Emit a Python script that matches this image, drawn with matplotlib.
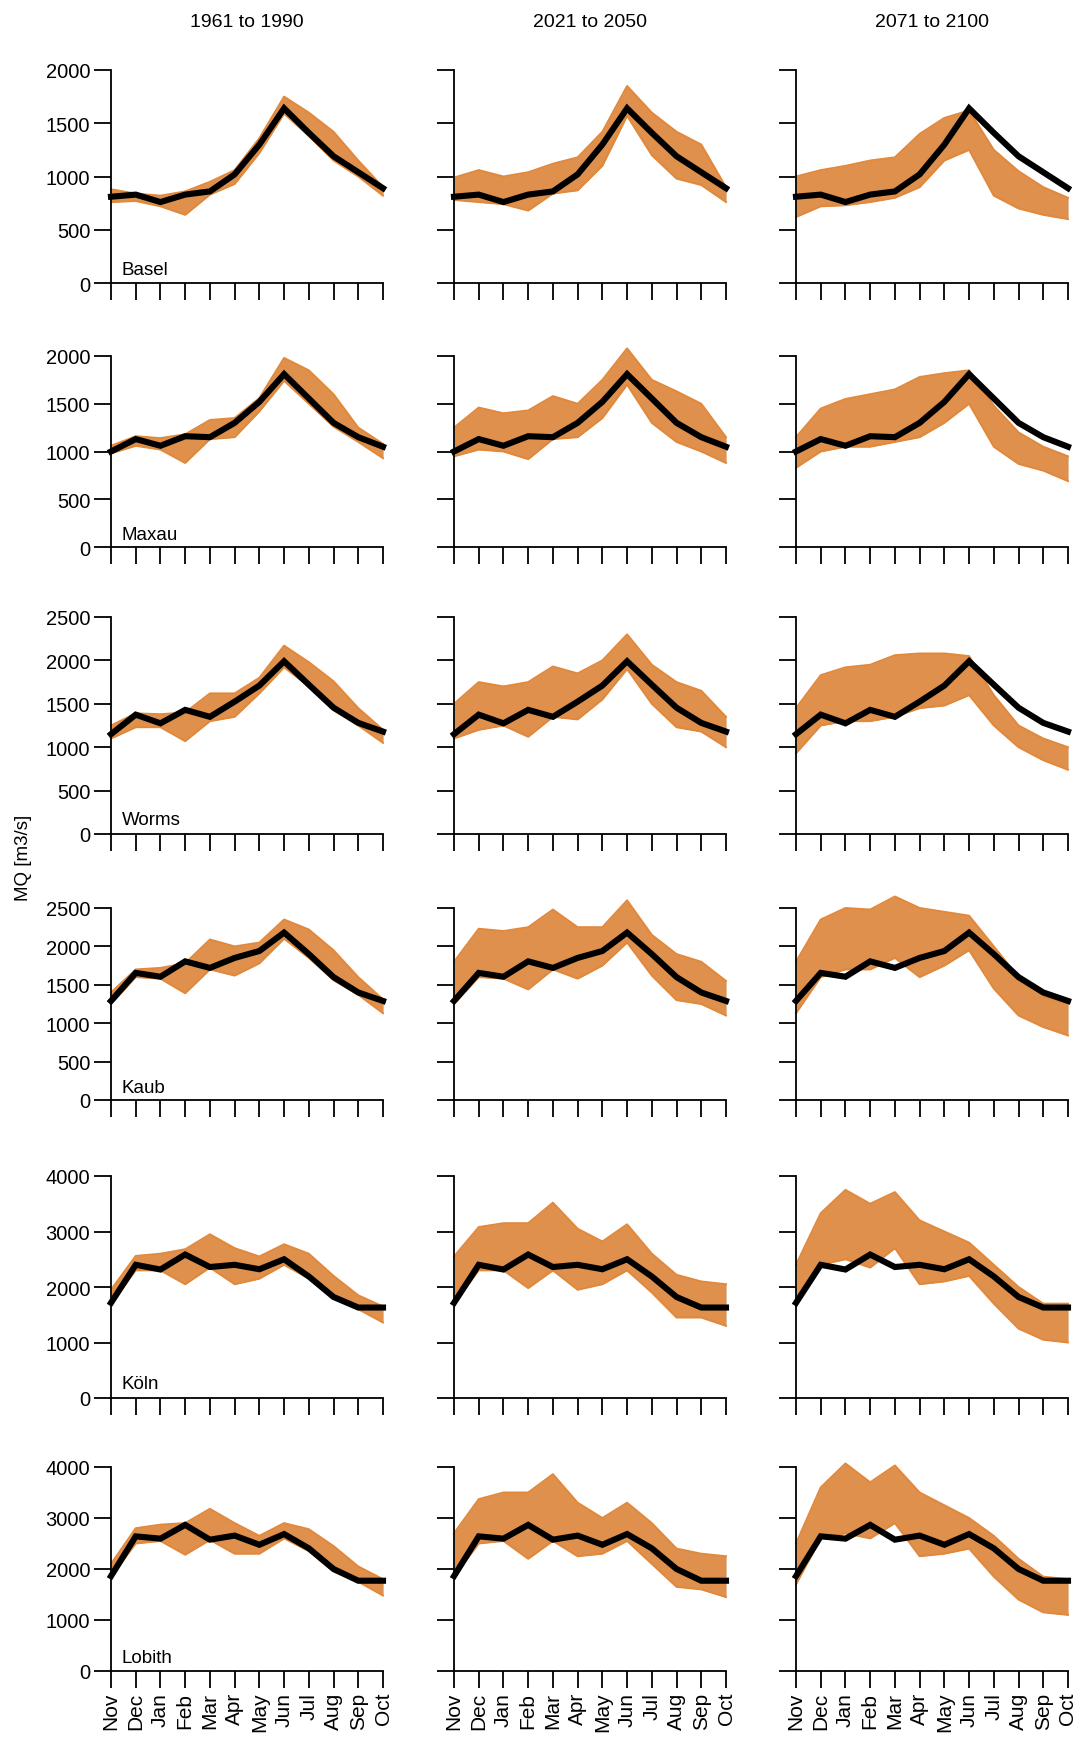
import matplotlib
matplotlib.use("Agg")
import matplotlib.pyplot as plt
import numpy as np

plt.rcParams['font.family'] = ['Liberation Sans', 'DejaVu Sans']

months = ['Nov', 'Dec', 'Jan', 'Feb', 'Mar', 'Apr', 'May', 'Jun', 'Jul', 'Aug', 'Sep', 'Oct']
periods = ['1961 to 1990', '2021 to 2050', '2071 to 2100']
stations = ['Basel', 'Maxau', 'Worms', 'Kaub', 'Köln', 'Lobith']
y_tops = [2000, 2000, 2500, 2500, 4000, 4000]
y_steps = [500, 500, 500, 500, 1000, 1000]

# observed mean monthly discharge (black line, same in every period column)
basel_obs = [810, 830, 760, 830, 860, 1020, 1300, 1640, 1410, 1190, 1040, 890]
maxau_obs = [1000, 1130, 1060, 1160, 1150, 1300, 1520, 1810, 1555, 1300, 1150, 1050]
worms_obs = [1150, 1375, 1275, 1430, 1350, 1525, 1710, 1990, 1720, 1455, 1280, 1180]
kaub_obs = [1290, 1655, 1605, 1805, 1720, 1850, 1940, 2180, 1900, 1600, 1400, 1290]
koeln_obs = [1715, 2400, 2315, 2585, 2360, 2400, 2320, 2500, 2190, 1820, 1630, 1630]
lobith_obs = [1860, 2640, 2595, 2865, 2575, 2655, 2475, 2685, 2405, 2000, 1770, 1770]

# ensemble envelope (lower / upper) per period
basel_lo = [[760, 770, 720, 640, 830, 930, 1220, 1590, 1380, 1150, 1000, 820],
            [780, 760, 740, 680, 840, 870, 1100, 1570, 1200, 980, 920, 760],
            [620, 720, 730, 760, 800, 900, 1150, 1250, 820, 700, 640, 600]]
basel_hi = [[880, 840, 820, 860, 950, 1060, 1360, 1750, 1600, 1420, 1150, 900],
            [990, 1060, 1000, 1040, 1120, 1180, 1420, 1850, 1600, 1420, 1300, 900],
            [1000, 1060, 1100, 1150, 1180, 1400, 1550, 1620, 1250, 1050, 900, 800]]

maxau_lo = [[980, 1060, 1020, 880, 1130, 1150, 1420, 1740, 1500, 1260, 1100, 930],
            [950, 1020, 1000, 920, 1130, 1150, 1350, 1700, 1300, 1100, 1000, 880],
            [830, 1000, 1050, 1050, 1100, 1150, 1300, 1500, 1050, 870, 800, 690]]
maxau_hi = [[1060, 1160, 1140, 1180, 1330, 1350, 1560, 1980, 1850, 1600, 1250, 1080],
            [1250, 1460, 1400, 1430, 1580, 1500, 1750, 2080, 1750, 1630, 1500, 1150],
            [1150, 1450, 1550, 1600, 1650, 1780, 1820, 1850, 1480, 1200, 1050, 950]]

worms_lo = [[1100, 1230, 1230, 1070, 1300, 1350, 1620, 1920, 1700, 1430, 1250, 1050],
            [1100, 1200, 1250, 1120, 1350, 1320, 1550, 1900, 1500, 1230, 1180, 1000],
            [930, 1250, 1300, 1300, 1350, 1450, 1480, 1600, 1250, 1000, 850, 740]]
worms_hi = [[1250, 1390, 1380, 1400, 1620, 1620, 1800, 2170, 1980, 1760, 1450, 1200],
            [1500, 1750, 1700, 1750, 1930, 1850, 2000, 2300, 1950, 1750, 1650, 1350],
            [1450, 1830, 1920, 1950, 2060, 2080, 2080, 2050, 1600, 1250, 1100, 1000]]

kaub_lo = [[1250, 1600, 1580, 1390, 1700, 1620, 1780, 2100, 1850, 1560, 1370, 1130],
           [1250, 1600, 1580, 1440, 1700, 1580, 1750, 2050, 1620, 1300, 1250, 1100],
           [1130, 1600, 1700, 1700, 1850, 1600, 1750, 1950, 1450, 1100, 950, 840]]
kaub_hi = [[1400, 1700, 1720, 1780, 2090, 2000, 2050, 2350, 2220, 1950, 1600, 1310],
           [1800, 2230, 2200, 2250, 2480, 2250, 2250, 2600, 2150, 1900, 1800, 1550],
           [1800, 2350, 2500, 2480, 2650, 2500, 2450, 2400, 2000, 1600, 1350, 1250]]

koeln_lo = [[1700, 2300, 2300, 2050, 2350, 2050, 2150, 2400, 2150, 1800, 1600, 1360],
            [1700, 2300, 2300, 1980, 2300, 1950, 2050, 2300, 1900, 1450, 1450, 1300],
            [1650, 2400, 2500, 2350, 2700, 2050, 2100, 2200, 1700, 1250, 1050, 1000]]
koeln_hi = [[1950, 2560, 2600, 2680, 2950, 2700, 2550, 2770, 2600, 2200, 1850, 1650],
            [2550, 3080, 3150, 3150, 3520, 3050, 2820, 3130, 2600, 2220, 2100, 2050],
            [2400, 3330, 3750, 3500, 3710, 3200, 3000, 2800, 2400, 2000, 1700, 1700]]

lobith_lo = [[1850, 2500, 2550, 2280, 2570, 2300, 2300, 2600, 2350, 1950, 1750, 1480],
             [1850, 2500, 2550, 2200, 2550, 2250, 2300, 2550, 2100, 1650, 1600, 1450],
             [1700, 2600, 2700, 2600, 2900, 2250, 2300, 2400, 1850, 1400, 1150, 1100]]
lobith_hi = [[2100, 2800, 2870, 2900, 3180, 2900, 2650, 2900, 2780, 2450, 2050, 1800],
             [2700, 3370, 3500, 3500, 3860, 3300, 3000, 3300, 2900, 2400, 2300, 2250],
             [2500, 3600, 4070, 3700, 4030, 3500, 3250, 3000, 2650, 2200, 1850, 1800]]

obs_all = [basel_obs, maxau_obs, worms_obs, kaub_obs, koeln_obs, lobith_obs]
lo_all = [basel_lo, maxau_lo, worms_lo, kaub_lo, koeln_lo, lobith_lo]
hi_all = [basel_hi, maxau_hi, worms_hi, kaub_hi, koeln_hi, lobith_hi]

ORANGE = '#e2883a'
GREY = '#c4c9ce'

W, H = 1080, 1740
fig = plt.figure(figsize=(W / 100, H / 100), dpi=100)

# pixel layout (from top of figure): y of top tick and y of zero
col_x = [111, 454, 796]
col_w = 272
row_px = [(71, 284), (357, 548), (618, 835), (909, 1101), (1177, 1399), (1468, 1672)]

x = np.arange(12)
for r in range(6):
    top_px, zero_px = row_px[r]
    for c in range(3):
        ax = fig.add_axes([col_x[c] / W, 1 - zero_px / H,
                           col_w / W, (zero_px - top_px) / H])
        lo = np.array(lo_all[r][c])
        hi = np.array(hi_all[r][c])
        ax.fill_between(x, lo, hi, color=GREY, lw=0, clip_on=False)
        ax.fill_between(x, lo, hi, color=ORANGE, alpha=0.88, lw=0, clip_on=False)
        ax.plot(x, lo, color=ORANGE, lw=1.4, clip_on=False)
        ax.plot(x, hi, color=ORANGE, lw=1.4, clip_on=False)
        ax.plot(x, obs_all[r], color='black', lw=4.4, clip_on=False,
                solid_joinstyle='miter', zorder=5)

        ax.set_xlim(0, 11)
        ax.set_ylim(0, y_tops[r])
        for side in ['top', 'right']:
            ax.spines[side].set_visible(False)
        ax.spines['left'].set_bounds(0, y_tops[r])
        ax.spines['bottom'].set_bounds(0, 11)
        for side in ['left', 'bottom']:
            ax.spines[side].set_linewidth(1.3)
        ax.set_xticks(x)
        ax.set_yticks(np.arange(0, y_tops[r] + 1, y_steps[r]))
        ax.tick_params(length=12, width=1.3, labelsize=14.5, pad=3)
        if r == 5:
            ax.set_xticklabels(months, rotation=90, fontsize=15)
        else:
            ax.set_xticklabels([])
        if c == 0:
            ax.text(0.04, 0.065, stations[r], transform=ax.transAxes,
                    fontsize=13.5, ha='left', va='center')
        else:
            ax.set_yticklabels([])
        if r == 0:
            ax.set_title(periods[c], fontsize=14, pad=32)

fig.text(23 / W, 1 - 858 / H, 'MQ [m3/s]', rotation=90, ha='center',
         va='center', fontsize=13.5)

fig.savefig('out.png', dpi=100)
